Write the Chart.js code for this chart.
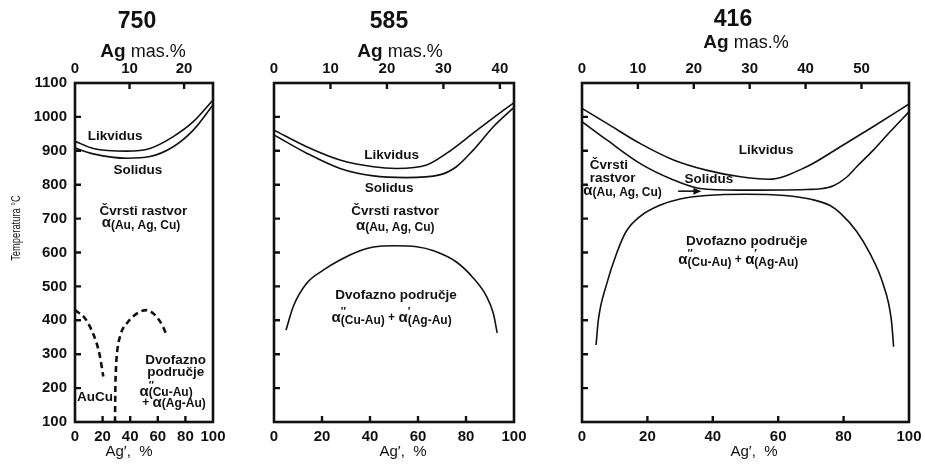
<!DOCTYPE html>
<html><head><meta charset="utf-8">
<script src="https://cdn.jsdelivr.net/npm/chart.js@4.4.1/dist/chart.umd.min.js"></script>
<style>
html,body{margin:0;padding:0;background:#fff;}
body{width:925px;height:464px;position:relative;overflow:hidden;}
.p{position:absolute;top:0;}
</style></head><body>
<div class="p" style="left:0px"><canvas id="c1" width="230" height="464"></canvas></div>
<div class="p" style="left:240px"><canvas id="c2" width="290" height="464"></canvas></div>
<div class="p" style="left:545px"><canvas id="c3" width="380" height="464"></canvas></div>
<script>
// ---------- data (Ag' % vs temperature °C) ----------
const bottomTicks = [0, 20, 40, 60, 80, 100];
const tempTicks = [100, 200, 300, 400, 500, 600, 700, 800, 900, 1000, 1100];
const panelTitles = ['750', '585', '416'];

// 750
const p750LiqX = [0, 13.3, 37.5, 54.3, 71.2, 85.7, 100];
const p750LiqT = [928, 907, 899, 907, 942, 986, 1050];
const p750SolX = [0, 13.3, 37.5, 54.3, 71.2, 85.7, 100];
const p750SolT = [908, 891, 878, 883, 912, 961, 1035];
const p750OrdAX = [0, 7.2, 12, 15.7, 18.1, 20.5];
const p750OrdAT = [430, 406, 371, 332, 293, 234];
const p750OrdBX = [29, 29.2, 29.6, 30.2, 32.6, 37.6, 47, 52, 59, 63.8, 66.7];
const p750OrdBT = [100, 190, 250, 293, 352, 391, 425, 430, 411, 381, 352];

// 585
const p585LiqX = [0, 13.6, 27.5, 41.4, 51, 63.6, 72, 83, 94, 100];
const p585LiqT = [961, 912, 873, 853, 848, 858, 893, 952, 1011, 1042];
const p585SolX = [0, 13.6, 27.5, 41.4, 55, 69, 76, 83, 91.4, 100];
const p585SolT = [947, 893, 848, 826, 821, 829, 853, 902, 971, 1028];
const p585DomeX = [5, 8, 13.6, 20.5, 27.5, 35.8, 41.4, 50, 59.5, 66.5, 76, 83, 88.6, 91.4, 93];
const p585DomeT = [371, 440, 509, 548, 578, 605, 616, 620, 617, 605, 572, 525, 470, 420, 363];

// 416
const p416LiqX = [0, 7.6, 17.7, 28, 38, 48, 57, 68.7, 79, 89, 100];
const p416LiqT = [1025, 981, 922, 873, 843, 824, 816, 853, 912, 971, 1038];
const p416SolX = [0, 7.6, 17.7, 28, 36, 48, 68.7, 73, 76.9, 80.9, 84, 89.1, 94.2, 100];
const p416SolT = [986, 932, 863, 814, 789, 784, 786, 788, 797, 822, 853, 902, 956, 1015];
const p416DomeX = [4.3, 5, 7.6, 10.6, 13.5, 17.7, 24, 30, 38, 50, 62, 70, 76, 79, 84, 88, 92, 94.6, 95.3];
const p416DomeT = [327, 401, 509, 598, 662, 706, 740, 758, 768, 772, 768, 757, 738, 716, 662, 598, 509, 401, 322];

// ---------- text ----------
const FONT = "'Liberation Sans', Arial, Helvetica, sans-serif";
const alphaSolid = [{t: 'α', s: 15}, {t: '(Au, Ag, Cu)', s: 12, dy: 2}];
const twoPhase = [{t: 'α', s: 15}, {t: '″', s: 11, dy: -6, adv: false}, {t: '(Cu-Au)', s: 12, dy: 3},
                  {t: ' + ', s: 12}, {t: 'α', s: 15}, {t: '′', s: 11, dy: -6, adv: false}, {t: '(Ag-Au)', s: 12, dy: 3}];

const notes750 = [
  {parts: [{t: 'Likvidus'}], x: 29, y: 942},
  {parts: [{t: 'Solidus'}], x: 45.6, y: 842},
  {parts: [{t: 'Čvrsti rastvor'}], x: 49.6, y: 723},
  {parts: alphaSolid, x: 47.8, y: 686},
  {parts: [{t: 'AuCu'}], x: 14.5, y: 173},
  {parts: [{t: 'Dvofazno'}], x: 73, y: 283},
  {parts: [{t: 'područje'}], x: 73, y: 248},
  {parts: [{t: 'α', s: 15}, {t: '″', s: 11, dy: -6, adv: false}, {t: '(Cu-Au)', s: 12, dy: 1}], x: 66, y: 190},
  {parts: [{t: '+ ', s: 12}, {t: 'α', s: 15}, {t: '′', s: 11, dy: -6, adv: false}, {t: '(Ag-Au)', s: 12, dy: 1}], x: 71.7, y: 157}
];
const notes585 = [
  {parts: [{t: 'Likvidus'}], x: 49, y: 888},
  {parts: [{t: 'Solidus'}], x: 48, y: 790},
  {parts: [{t: 'Čvrsti rastvor'}], x: 50.5, y: 722},
  {parts: alphaSolid, x: 50.5, y: 678},
  {parts: [{t: 'Dvofazno područje'}], x: 50.8, y: 475},
  {parts: twoPhase, x: 49, y: 408}
];
const notes416 = [
  {parts: [{t: 'Likvidus'}], x: 56.3, y: 902},
  {parts: [{t: 'Čvrsti'}], x: 2.4, y: 858, align: 'left'},
  {parts: [{t: 'rastvor'}], x: 2.4, y: 819, align: 'left'},
  {parts: alphaSolid, x: 0.4, y: 783, align: 'left'},
  {parts: [{t: 'Solidus'}], x: 38.8, y: 817},
  {parts: [{t: 'Dvofazno područje'}], x: 50.4, y: 632},
  {parts: twoPhase, x: 47.8, y: 578}
];

function fontOf(p, def) {
  const size = p.s || def;
  return (p.w || 'bold') + ' ' + size + 'px ' + FONT;
}
function drawRich(ctx, parts, x, y, align, def) {
  let w = 0;
  const widths = parts.map(p => { ctx.font = fontOf(p, def); const m = ctx.measureText(p.t).width; if (p.adv !== false) w += m; return m; });
  let cx = align === 'left' ? x : x - w / 2;
  ctx.textAlign = 'left';
  ctx.textBaseline = 'middle';
  parts.forEach((p, i) => {
    ctx.font = fontOf(p, def);
    ctx.fillText(p.t, cx, y + (p.dy || 0));
    if (p.adv !== false) cx += widths[i];
  });
}

function makeDecor(cfg) {
  return {
    id: 'decor' + cfg.id,
    afterDraw(chart) {
      const ctx = chart.ctx, ca = chart.chartArea;
      const sx = chart.scales.x, sx2 = chart.scales.x2, sy = chart.scales.y;
      ctx.save();
      ctx.strokeStyle = '#111';
      ctx.fillStyle = '#111';
      // inward ticks
      ctx.lineWidth = 2.4;
      ctx.beginPath();
      sx.ticks.forEach(t => { const px = sx.getPixelForValue(t.value); if (px > ca.left + 3 && px < ca.right - 3) { ctx.moveTo(px, ca.bottom); ctx.lineTo(px, ca.bottom - 6); } });
      sx2.ticks.forEach(t => { const px = sx2.getPixelForValue(t.value); if (px > ca.left + 3 && px < ca.right - 3) { ctx.moveTo(px, ca.top); ctx.lineTo(px, ca.top + 6); } });
      sy.ticks.forEach(t => { const py = sy.getPixelForValue(t.value); if (py > ca.top + 3 && py < ca.bottom - 3) { ctx.moveTo(ca.left, py); ctx.lineTo(ca.left + 6, py); } });
      ctx.stroke();
      // frame
      ctx.lineWidth = 2.6;
      ctx.strokeRect(ca.left, ca.top, ca.right - ca.left, ca.bottom - ca.top);
      // notes
      cfg.notes.forEach(n => drawRich(ctx, n.parts, sx.getPixelForValue(n.x), sy.getPixelForValue(n.y), n.align || 'center', 13.5));
      // arrow
      if (cfg.arrow) {
        const x1 = sx.getPixelForValue(cfg.arrow.x1), x2 = sx.getPixelForValue(cfg.arrow.x2), py = sy.getPixelForValue(cfg.arrow.y);
        ctx.lineWidth = 1.6;
        ctx.beginPath(); ctx.moveTo(x1, py); ctx.lineTo(x2 - 6, py); ctx.stroke();
        ctx.beginPath(); ctx.moveTo(x2, py); ctx.lineTo(x2 - 8, py - 3.5); ctx.lineTo(x2 - 8, py + 3.5); ctx.closePath(); ctx.fill();
      }
      // titles
      ctx.textAlign = 'center'; ctx.textBaseline = 'middle';
      ctx.font = 'bold 23px ' + FONT;
      ctx.fillText(cfg.title, cfg.titleX, cfg.titleY);
      drawRich(ctx, [{t: 'Ag', s: 19}, {t: ' mas.%', s: 18, w: 'normal'}], cfg.subX, cfg.subY, 'center', 18);
      ctx.font = 'normal 15px ' + FONT;
      ctx.textAlign = 'center';
      ctx.fillText('Ag′,  %', cfg.axX, 452);
      if (cfg.yTitle) {
        ctx.save();
        ctx.translate(17, 228);
        ctx.rotate(-Math.PI / 2);
        ctx.scale(0.78, 1);
        ctx.font = "normal 12px " + FONT;
        ctx.textAlign = 'center'; ctx.textBaseline = 'middle';
        ctx.fillText('Temperatura °C', 0, 0);
        ctx.restore();
      }
      ctx.restore();
    }
  };
}

function series(x, t, dash) { return {x, t, dash}; }

function panel(id, cfg) {
  const tickFont = {family: FONT, size: 15, weight: 'bold'};
  new Chart(document.getElementById(id), {
    type: 'line',
    data: {
      datasets: cfg.series.map(s => ({
        data: s.x.map((v, i) => ({x: v, y: s.t[i]})),
        borderColor: '#111', borderWidth: s.dash ? 2.6 : 1.6,
        borderDash: s.dash ? [6, 4] : [], pointRadius: 0, cubicInterpolationMode: 'monotone', fill: false,
        xAxisID: 'x', yAxisID: 'y'
      }))
    },
    options: {
      responsive: false, animation: false, events: [],
      layout: {padding: {left: 0, right: cfg.padR, top: 0, bottom: 0}, autoPadding: false},
      plugins: {legend: {display: false}, tooltip: {enabled: false}, title: {display: false}},
      scales: {
        x: {type: 'linear', position: 'bottom', min: 0, max: 100,
            afterBuildTicks: s => { s.ticks = bottomTicks.map(v => ({value: v})); },
            ticks: {padding: 6, font: tickFont, color: '#111', maxRotation: 0, autoSkip: false, callback: v => String(v)},
            grid: {display: false, drawTicks: false}, border: {display: false},
            afterFit: s => { s.height = 42; s.paddingLeft = 0; s.paddingRight = 0; }},
        x2: {type: 'linear', position: 'top', min: 0, max: cfg.topMax,
            afterBuildTicks: s => { s.ticks = cfg.topTicks.map(v => ({value: v})); },
            ticks: {padding: 5, font: tickFont, color: '#111', maxRotation: 0, autoSkip: false, callback: v => String(v)},
            grid: {display: false, drawTicks: false}, border: {display: false},
            afterFit: s => { s.height = 83; s.paddingLeft = 0; s.paddingRight = 0; }},
        y: {type: 'linear', position: 'left', min: 100, max: 1100,
            afterBuildTicks: s => { s.ticks = tempTicks.map(v => ({value: v})); },
            ticks: {display: cfg.yLabels, padding: 8, font: tickFont, color: '#111', autoSkip: false, callback: v => String(v)},
            grid: {display: false, drawTicks: false}, border: {display: false},
            afterFit: s => { s.width = cfg.yW; s.paddingTop = 0; s.paddingBottom = 0; }}
      }
    },
    plugins: [makeDecor(cfg)]
  });
}

panel('c1', {id: 1, yW: 75, padR: 17, topMax: 25.3, topTicks: [0, 10, 20], yLabels: true, yTitle: true,
  title: panelTitles[0], titleX: 137, titleY: 22, subX: 143, subY: 52, axX: 129,
  series: [series(p750LiqX, p750LiqT), series(p750SolX, p750SolT), series(p750OrdAX, p750OrdAT, true), series(p750OrdBX, p750OrdBT, true)],
  notes: notes750});
panel('c2', {id: 2, yW: 34, padR: 16, topMax: 42.5, topTicks: [0, 10, 20, 30, 40], yLabels: false,
  title: panelTitles[1], titleX: 149, titleY: 22, subX: 160, subY: 52, axX: 163,
  series: [series(p585LiqX, p585LiqT), series(p585SolX, p585SolT), series(p585DomeX, p585DomeT)],
  notes: notes585});
panel('c3', {id: 3, yW: 37, padR: 16, topMax: 58.5, topTicks: [0, 10, 20, 30, 40, 50], yLabels: false,
  title: panelTitles[2], titleX: 188, titleY: 20, subX: 201, subY: 43, axX: 209,
  series: [series(p416LiqX, p416LiqT), series(p416SolX, p416SolT), series(p416DomeX, p416DomeT)],
  notes: notes416, arrow: {x1: 29.4, x2: 36.5, y: 781}});
</script>
</body></html>
